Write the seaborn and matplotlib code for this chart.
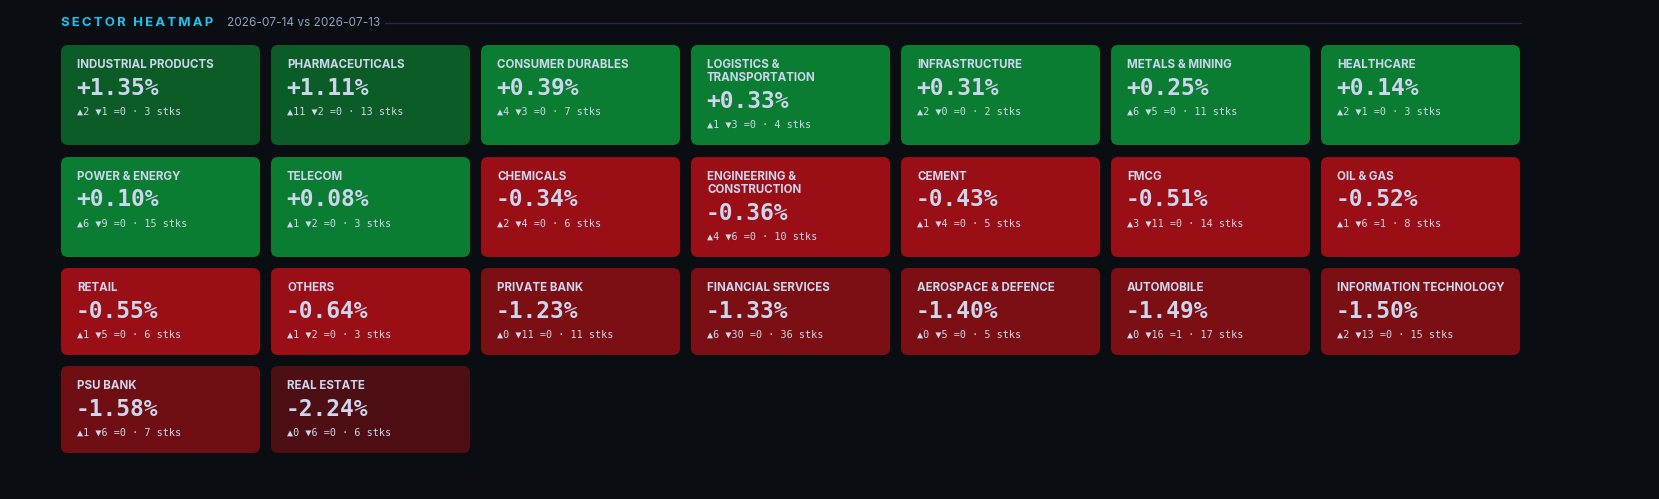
import matplotlib
matplotlib.use("Agg")
import matplotlib.pyplot as plt
from matplotlib.patches import FancyBboxPatch
import seaborn as sns

sns.set_theme(style="dark")
plt.rcParams["font.family"] = ["Inter", "DejaVu Sans"]

# data
sectors = ["INDUSTRIAL PRODUCTS", "PHARMACEUTICALS", "CONSUMER DURABLES", "LOGISTICS &\nTRANSPORTATION",
           "INFRASTRUCTURE", "METALS & MINING", "HEALTHCARE",
           "POWER & ENERGY", "TELECOM", "CHEMICALS", "ENGINEERING &\nCONSTRUCTION", "CEMENT", "FMCG", "OIL & GAS",
           "RETAIL", "OTHERS", "PRIVATE BANK", "FINANCIAL SERVICES", "AEROSPACE & DEFENCE", "AUTOMOBILE",
           "INFORMATION TECHNOLOGY", "PSU BANK", "REAL ESTATE"]
changes = [1.35, 1.11, 0.39, 0.33, 0.31, 0.25, 0.14,
           0.10, 0.08, -0.34, -0.36, -0.43, -0.51, -0.52,
           -0.55, -0.64, -1.23, -1.33, -1.40, -1.49, -1.50,
           -1.58, -2.24]
ups = [2, 11, 4, 1, 2, 6, 2, 6, 1, 2, 4, 1, 3, 1, 1, 1, 0, 6, 0, 0, 2, 1, 0]
downs = [1, 2, 3, 3, 0, 5, 1, 9, 2, 4, 6, 4, 11, 6, 5, 2, 11, 30, 5, 16, 13, 6, 6]
flats = [0, 0, 0, 0, 0, 0, 0, 0, 0, 0, 0, 0, 0, 1, 0, 0, 0, 0, 0, 1, 0, 0, 0]
stocks = [3, 13, 7, 4, 2, 11, 3, 15, 3, 6, 10, 5, 14, 8, 6, 3, 11, 36, 5, 17, 15, 7, 6]

BG = "#0a0d12"
TXT = "#cdd6ee"


def tile_color(v):
    if v >= 1.0:
        return "#0c5c27"
    if v >= 0:
        return "#0a7d33"
    if v > -1.0:
        return "#9a0f15"
    if v > -1.55:
        return "#7c0f14"
    if v > -2.0:
        return "#6f0f14"
    return "#4e0f14"


fig = plt.figure(figsize=(16.59, 4.99), dpi=100, facecolor=BG)
ax = fig.add_axes([0, 0, 1, 1])
ax.set_facecolor(BG)
ax.set_xlim(0, 1659)
ax.set_ylim(499, 0)
ax.axis("off")

# letter-spaced title
title = "SECTOR HEATMAP"
ax.text(61, 23, "\u2009".join(title), color="#19c6f2", fontsize=9.5,
        fontweight="bold", va="center", ha="left")
ax.text(227, 23, "2026-07-14 vs 2026-07-13", color="#8fa2bd", fontsize=8.5, va="center", ha="left")
ax.plot([385, 1521], [23, 23], color="#252e3a", lw=1)

row_tops = [45, 157, 268, 366]
row_h = [100, 100, 87, 87]
for i, name in enumerate(sectors):
    r, c = divmod(i, 7)
    x0 = 61 + c * 210
    y0 = row_tops[r]
    ax.add_patch(FancyBboxPatch((x0, y0), 199, row_h[r], boxstyle="round,pad=0,rounding_size=7",
                                fc=tile_color(changes[i]), ec="none"))
    extra = 13 if "\n" in name else 0
    ax.text(x0 + 16, y0 + 14, name, color=TXT, fontsize=8.3, fontweight="bold",
            va="top", ha="left", linespacing=1.15)
    ax.text(x0 + 15, y0 + 43 + extra, f"{changes[i]:+.2f}%", color=TXT, fontsize=16.5,
            fontweight="bold", family=["DejaVu Sans Mono"], va="center", ha="left")
    ax.text(x0 + 16, y0 + 67 + extra,
            f"\u25b2{ups[i]} \u25bc{downs[i]} ={flats[i]} \u00b7 {stocks[i]} stks",
            color=TXT, fontsize=7.3, family=["DejaVu Sans Mono"], va="center", ha="left")

fig.savefig("out.png", dpi=100, facecolor=BG)
